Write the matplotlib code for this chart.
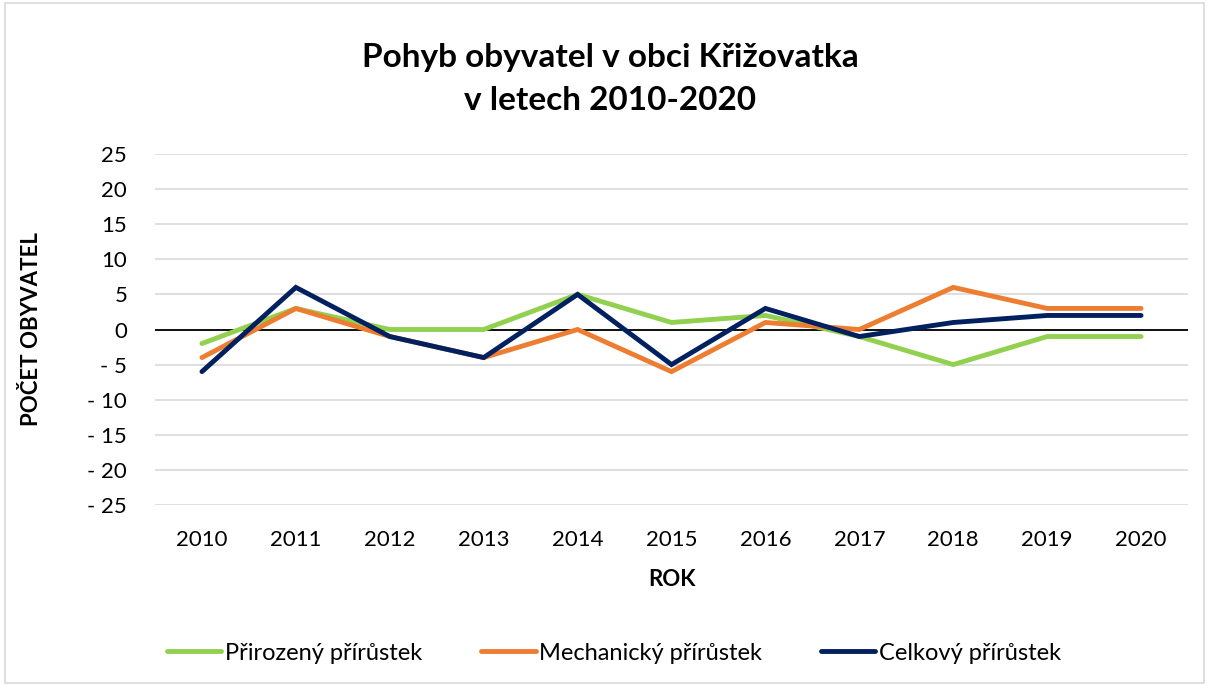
import matplotlib
matplotlib.use("Agg")
import matplotlib.pyplot as plt
from matplotlib.patches import Rectangle

years = ["2010", "2011", "2012", "2013", "2014", "2015", "2016", "2017", "2018", "2019", "2020"]
prirozeny = [-2, 3, 0, 0, 5, 1, 2, -1, -5, -1, -1]
mechanicky = [-4, 3, -1, -4, 0, -6, 1, 0, 6, 3, 3]
celkovy = [-6, 6, -1, -4, 5, -5, 3, -1, 1, 2, 2]
series_names = ["Přirozený přírůstek", "Mechanický přírůstek", "Celkový přírůstek"]
colors = ["#92d050", "#ed7d31", "#002060"]
yticks = [25, 20, 15, 10, 5, 0, -5, -10, -15, -20, -25]

plt.rcParams['font.family'] = ['Lato', 'DejaVu Sans']

fig = plt.figure(figsize=(12.09, 6.86), dpi=100)
fig.patches.append(Rectangle((0.004, 0.004), 0.992, 0.992, transform=fig.transFigure,
                             fill=False, edgecolor="#d9d9d9", linewidth=1.2))
ax = fig.add_axes([155/1209, 1-505/686, (1188-155)/1209, (505-154)/686])

x = list(range(len(years)))
for vals, name, c in zip([prirozeny, mechanicky, celkovy], series_names, colors):
    ax.plot(x, vals, color=c, linewidth=3.5, label=name, solid_capstyle="round",
            solid_joinstyle="miter", zorder=3)

ax.set_xlim(-0.5, len(years) - 0.5)
ax.set_ylim(-25, 25)
ax.set_yticks(yticks)
ax.set_yticklabels([("- " + str(abs(v))) if v < 0 else str(v) for v in yticks])
ax.set_xticks(x)
ax.set_xticklabels(years)
ax.tick_params(axis="both", length=0, labelsize=16, colors="black")
ax.tick_params(axis="y", pad=20)
ax.tick_params(axis="x", pad=18)
for s in ax.spines.values():
    s.set_visible(False)
ax.grid(axis="y", color="#d9d9d9", linewidth=1.2, zorder=0)
ax.set_axisbelow(True)
ax.axhline(0, color="black", linewidth=1.3, zorder=2)

ax.set_xlabel("ROK", fontsize=16, fontweight="bold", va="center")
ax.set_ylabel("POČET OBYVATEL", fontsize=16, fontweight="bold", va="center")
ax.xaxis.set_label_coords(0.5, (505-580)/351)
ax.yaxis.set_label_coords((32-155)/1033, 0.5)

fig.text(0.505, 1-57/686, "Pohyb obyvatel v obci Křižovatka", ha="center", va="center",
         fontsize=24, fontweight="bold")
fig.text(0.505, 1-100/686, "v letech 2010-2020", ha="center", va="center",
         fontsize=24, fontweight="bold")

fig.legend(loc="center", bbox_to_anchor=(0.508, 1-653/686), ncol=3, frameon=False,
           fontsize=17, handlelength=2.3, handletextpad=0.15, columnspacing=2.5)

fig.savefig("out.png", dpi=100)
